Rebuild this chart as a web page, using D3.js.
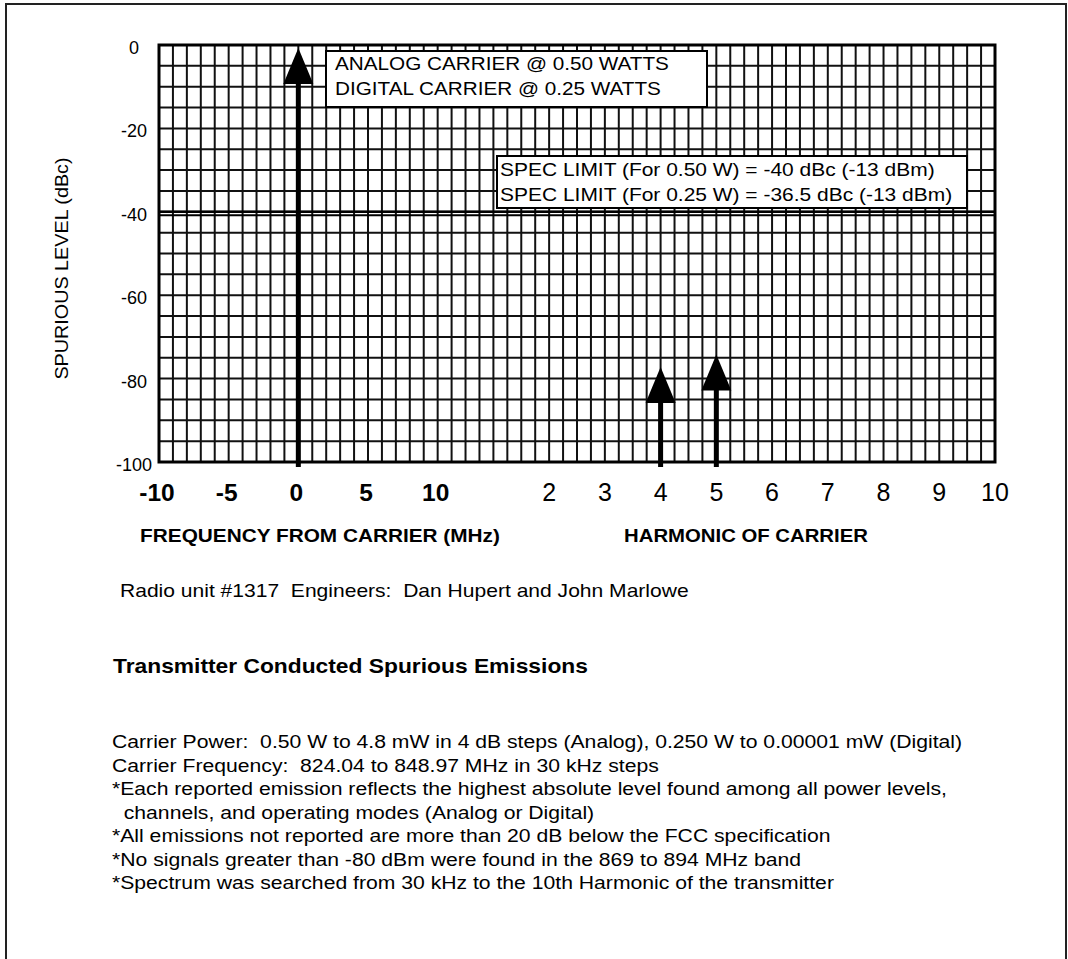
<!DOCTYPE html>
<html>
<head>
<meta charset="utf-8">
<script src="https://cdn.jsdelivr.net/npm/d3@7"></script>
<style>
  html, body { margin: 0; padding: 0; background: #fff; }
  svg { display: block; font-family: "Liberation Sans", Arial, sans-serif; }
  text { white-space: pre; }
</style>
</head>
<body>
<svg id="chart" width="1068" height="959"></svg>
<script>
// ---- data ----
const levelTicks = [0, -20, -40, -60, -80, -100];
const freqTicks = [-10, -5, 0, 5, 10];
const harmonicTicks = [2, 3, 4, 5, 6, 7, 8, 9, 10];
const specLimit = -40;
// emissions: carrier (frequency axis) and harmonics (harmonic axis)
const carrierEmissions = [{ freq: 0, level: 0 }];
const harmonicEmissions = [{ harmonic: 4, level: -76.5 }, { harmonic: 5, level: -73.5 }];
const boxAnalog = ["ANALOG CARRIER @ 0.50 WATTS", "DIGITAL CARRIER @ 0.25 WATTS"];
const boxSpec = ["SPEC LIMIT (For 0.50 W) = -40 dBc (-13 dBm)", "SPEC LIMIT (For 0.25 W) = -36.5 dBc (-13 dBm)"];
const notes = [
  "Carrier Power:  0.50 W to 4.8 mW in 4 dB steps (Analog), 0.250 W to 0.00001 mW (Digital)",
  "Carrier Frequency:  824.04 to 848.97 MHz in 30 kHz steps",
  "*Each reported emission reflects the highest absolute level found among all power levels,",
  "  channels, and operating modes (Analog or Digital)",
  "*All emissions not reported are more than 20 dB below the FCC specification",
  "*No signals greater than -80 dBm were found in the 869 to 894 MHz band",
  "*Spectrum was searched from 30 kHz to the 10th Harmonic of the transmitter"
];

// ---- layout ----
const svg = d3.select("#chart");
const L = 159, R = 995, T = 45, B = 462;
const nCols = 60;
const col = d3.scaleLinear().domain([0, nCols]).range([L, R]);
const y = d3.scaleLinear().domain([0, -100]).range([T, B]);
const xFreq = d3.scaleLinear().domain([-10, 10]).range([col(0), col(20)]);
const xHarm = d3.scaleLinear().domain([2, 10]).range([col(28), col(60)]);

// helper: text with horizontal stretch
function stext(parent, x, yy, str, opt) {
  const o = Object.assign({ size: 17, weight: "normal", anchor: "start", sx: 1, rot: 0 }, opt || {});
  return parent.append("text")
    .attr("transform", `translate(${x},${yy}) rotate(${o.rot}) scale(${o.sx},1)`)
    .attr("text-anchor", o.anchor).attr("font-size", o.size).attr("font-weight", o.weight)
    .attr("xml:space", "preserve")
    .text(str);
}

// outer frame
svg.append("rect").attr("x", 6).attr("y", 4).attr("width", 1060).attr("height", 990)
  .attr("fill", "none").attr("stroke", "#222").attr("stroke-width", 2);

// grid
const g = svg.append("g");
g.selectAll("line.v").data(d3.range(0, nCols + 1)).join("line")
  .attr("x1", d => col(d)).attr("x2", d => col(d))
  .attr("y1", T).attr("y2", B)
  .attr("stroke", "#111").attr("stroke-width", 2);
g.selectAll("line.h").data(d3.range(-100, 1, 5)).join("line")
  .attr("x1", L).attr("x2", R)
  .attr("y1", d => y(d)).attr("y2", d => y(d))
  .attr("stroke", "#111").attr("stroke-width", 2);
g.append("rect").attr("x", L).attr("y", T).attr("width", R - L).attr("height", B - T)
  .attr("fill", "none").attr("stroke", "#000").attr("stroke-width", 3);

// spec limit double line
g.append("line").attr("x1", L).attr("x2", R)
  .attr("y1", y(specLimit) + 3.5).attr("y2", y(specLimit) + 3.5)
  .attr("stroke", "#000").attr("stroke-width", 2);
g.append("line").attr("x1", L).attr("x2", R)
  .attr("y1", y(specLimit)).attr("y2", y(specLimit))
  .attr("stroke", "#000").attr("stroke-width", 2.5);

// y tick labels
levelTicks.forEach(d => stext(svg, 134, y(d) + 9, String(d), { size: 18, anchor: "middle" }));

// y title
stext(svg, 68, (T + B) / 2 + 15, "SPURIOUS LEVEL (dBc)", { size: 17.5, anchor: "middle", rot: -90, sx: 1.13 });

// x tick labels
freqTicks.forEach(d => stext(svg, xFreq(d) - 2, 501, String(d), { size: 24.5, weight: "bold", anchor: "middle" }));
harmonicTicks.forEach(d => stext(svg, xHarm(d), 501, String(d), { size: 25, anchor: "middle" }));

// axis titles
stext(svg, 320, 542, "FREQUENCY FROM CARRIER (MHz)", { size: 18, weight: "bold", anchor: "middle", sx: 1.155 });
stext(svg, 746, 542, "HARMONIC OF CARRIER", { size: 18, weight: "bold", anchor: "middle", sx: 1.13 });

// arrows
function arrow(x, level) {
  const tip = y(level) + 3;
  const headH = 36, headW = 30, shaftW = 5;
  svg.append("rect").attr("x", x - shaftW / 2).attr("y", tip + headH - 1)
    .attr("width", shaftW).attr("height", (B + 5) - (tip + headH - 1)).attr("fill", "#000");
  svg.append("path")
    .attr("d", `M${x},${tip} L${x - headW / 2},${tip + headH} L${x + headW / 2},${tip + headH} Z`)
    .attr("fill", "#000");
}
carrierEmissions.forEach(d => arrow(xFreq(d.freq), d.level));
harmonicEmissions.forEach(d => arrow(xHarm(d.harmonic), d.level));

// annotation boxes
function box(x, yy, w, h, lines, fs, sx, lineGap, padX, base1) {
  svg.append("rect").attr("x", x).attr("y", yy).attr("width", w).attr("height", h)
    .attr("fill", "#fff").attr("stroke", "#000").attr("stroke-width", 2);
  lines.forEach((d, i) => stext(svg, x + padX, yy + base1 + i * lineGap, d, { size: fs, sx: sx }));
}
box(326, 51, 381, 56, boxAnalog, 18.5, 1.12, 25, 9, 19);
box(497, 156, 470, 52, boxSpec, 18, 1.165, 25, 3, 20);

// footer text
stext(svg, 120, 597, "Radio unit #1317  Engineers:  Dan Hupert and John Marlowe", { size: 18, sx: 1.17 });
stext(svg, 113, 673, "Transmitter Conducted Spurious Emissions", { size: 20, weight: "bold", sx: 1.14 });
notes.forEach((d, i) => stext(svg, 112, 748 + i * 23.5, d, { size: 17.5, sx: 1.21 }));
</script>
</body>
</html>
